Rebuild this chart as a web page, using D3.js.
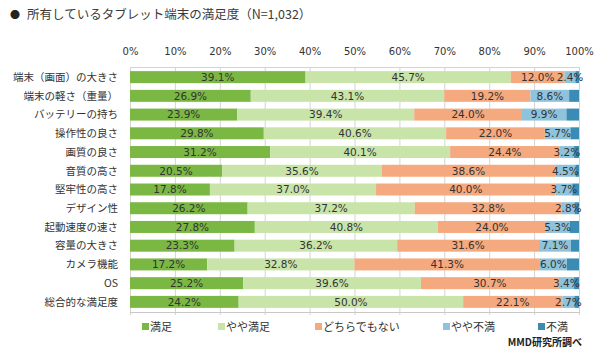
<!DOCTYPE html>
<html><head><meta charset="utf-8">
<script src="https://cdn.jsdelivr.net/npm/d3@7"></script>
<style>
html,body{margin:0;padding:0;background:#fff;}
svg{display:block;}
</style></head>
<body>
<svg id="c" width="600" height="358"></svg>
<script>
const categories = ["端末（画面）の大きさ","端末の軽さ（重量）","バッテリーの持ち","操作性の良さ","画質の良さ","音質の高さ","堅牢性の高さ","デザイン性","起動速度の速さ","容量の大きさ","カメラ機能","OS","総合的な満足度"];
const seriesNames = ["満足","やや満足","どちらでもない","やや不満","不満"];
const satisfied     = [39.1,26.9,23.9,29.8,31.2,20.5,17.8,26.2,27.8,23.3,17.2,25.2,24.2];
const somewhatSat   = [45.7,43.1,39.4,40.6,40.1,35.6,37.0,37.2,40.8,36.2,32.8,39.6,50.0];
const neutral       = [12.0,19.2,24.0,22.0,24.4,38.6,40.0,32.8,24.0,31.6,41.3,30.7,22.1];
const somewhatDis   = [2.4,8.6,9.9,5.7,3.2,4.5,3.7,2.8,5.3,7.1,6.0,3.4,2.7];
const dissatisfied  = [0.8,2.2,2.8,1.9,1.1,0.8,1.5,1.0,2.1,1.8,2.7,1.1,1.0];
const tickValues = [0,10,20,30,40,50,60,70,80,90,100];
const colors = ["#7ab843","#c8e4a9","#f5a97e","#8fc3dc","#3a8cb5"];

const series = [satisfied,somewhatSat,neutral,somewhatDis,dissatisfied];
const rows = categories.map((c,i)=>{const o={cat:c}; seriesNames.forEach((s,j)=>o[s]=series[j][i]); return o;});
const stacked = d3.stack().keys(seriesNames)(rows);

const svg = d3.select("#c");
const x = d3.scaleLinear().domain([0,100]).range([130,579]);
const y = d3.scaleBand().domain(categories).range([67,312]).paddingInner(0.36).paddingOuter(0.22);

const font = "'Noto Sans CJK JP','Noto Sans',sans-serif";
const numFont = "'DejaVu Sans',Verdana,sans-serif";

// title
svg.append("text").attr("x",10).attr("y",19).attr("font-family",font).attr("font-size",10).attr("fill","#222").text("●");
svg.append("text").attr("x",27).attr("y",19).attr("font-family",font).attr("font-size",12.5).attr("fill","#3a3a3a").text("所有しているタブレット端末の満足度（N=1,032）");

// gridlines
svg.append("g").selectAll("line").data(tickValues).join("line")
  .attr("x1",d=>x(d)+0.5).attr("x2",d=>x(d)+0.5).attr("y1",67).attr("y2",315)
  .attr("stroke","#d4d4d4").attr("stroke-width",1);
svg.append("line").attr("x1",x(0)).attr("x2",x(100)+1).attr("y1",67.5).attr("y2",67.5).attr("stroke","#d4d4d4");
svg.append("line").attr("x1",x(0)).attr("x2",x(100)+1).attr("y1",312.5).attr("y2",312.5).attr("stroke","#c8c8c8");

// top axis labels
const axis = svg.append("g").attr("transform","translate(0,67)").call(d3.axisTop(x).tickValues(tickValues).tickFormat(d=>d+"%").tickSize(0).tickPadding(12));
axis.select(".domain").remove();
axis.selectAll("text").attr("font-family",numFont).attr("font-size",10).attr("fill","#333");

// bars
const g = svg.append("g");
stacked.forEach((s,j)=>{
  g.append("g").selectAll("rect").data(s).join("rect")
    .attr("x",d=>x(d[0])).attr("width",d=>x(d[1])-x(d[0]))
    .attr("y",d=>y(d.data.cat)).attr("height",y.bandwidth())
    .attr("fill",colors[j]);
});
// value labels (not for 不満)
stacked.slice(0,4).forEach((s,j)=>{
  g.append("g").selectAll("text").data(s).join("text")
    .attr("x",d=>(x(d[0])+x(d[1]))/2).attr("y",d=>y(d.data.cat)+y.bandwidth()/2)
    .attr("dy","0.36em").attr("text-anchor","middle")
    .attr("font-family",numFont).attr("font-size",10.5).attr("fill","#333")
    .text(d=>(d[1]-d[0]).toFixed(1)+"%");
});

// category labels
svg.append("g").selectAll("text").data(categories).join("text")
  .attr("x",118).attr("y",d=>y(d)+y.bandwidth()/2).attr("dy","0.36em")
  .attr("text-anchor","end").attr("font-family",font).attr("font-size",10.5).attr("fill","#333")
  .text(d=>d);

// legend
const legendX = [142,218,315,443,538];
const lg = svg.append("g");
seriesNames.forEach((n,j)=>{
  lg.append("rect").attr("x",legendX[j]).attr("y",323).attr("width",7).attr("height",7).attr("fill",colors[j]);
  lg.append("text").attr("x",legendX[j]+8).attr("y",327).attr("dy","0.36em").attr("font-family",font).attr("font-size",11).attr("fill","#333").text(n);
});
svg.append("text").attr("x",582).attr("y",342).attr("dy","0.36em").attr("text-anchor","end")
  .attr("font-family",font).attr("font-size",10).attr("font-weight","bold").attr("fill","#222").text("MMD研究所調べ");
</script>
</body></html>
